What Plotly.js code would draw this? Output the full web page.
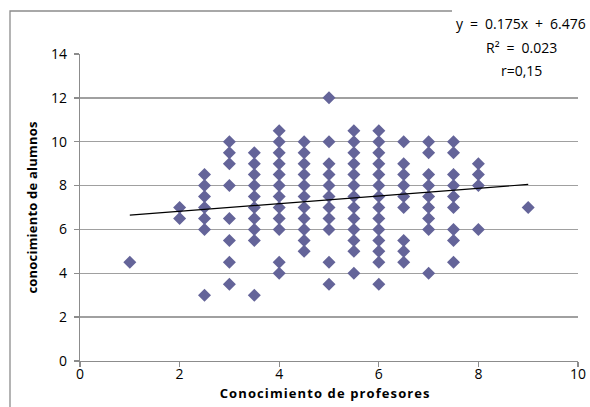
<!DOCTYPE html>
<html>
<head>
<meta charset="utf-8">
<script src="https://cdn.plot.ly/plotly-3.0.1.min.js"></script>
<style>
html,body{margin:0;padding:0;background:#fff;}
#chart{width:590px;height:407px;}
.g-ytitle text{letter-spacing:0.2px;}
.annotation.xtitle-ann text{letter-spacing:1.1px;}
</style>
</head>
<body>
<div id="chart"></div>
<script>
// Conocimiento de profesores (x columns)
const profesoresCols = [1, 2, 2.5, 3, 3.5, 4, 4.5, 5, 5.5, 6, 6.5, 7, 7.5, 8, 9];
// Conocimiento de alumnos (y values in each column)
const alumnosCols = [
  [4.5],
  [7, 6.5],
  [8.5, 8, 7.5, 7, 6.5, 6, 3],
  [10, 9.5, 9, 8, 6.5, 5.5, 4.5, 3.5],
  [9.5, 9, 8.5, 8, 7.5, 7, 6.5, 6, 5.5, 3],
  [10.5, 10, 9.5, 9, 8.5, 8, 7.5, 7, 6.5, 6, 4.5, 4],
  [10, 9.5, 9, 8.5, 8, 7.5, 7, 6.5, 6, 5.5, 5],
  [12, 10, 9, 8.5, 8, 7.5, 7, 6.5, 6, 4.5, 3.5],
  [10.5, 10, 9.5, 9, 8.5, 8, 7.5, 7, 6.5, 6, 5.5, 5, 4],
  [10.5, 10, 9.5, 9, 8.5, 8, 7.5, 7, 6.5, 6, 5.5, 5, 4.5, 3.5],
  [10, 9, 8.5, 8, 7.5, 7, 5.5, 5, 4.5],
  [10, 9.5, 8.5, 8, 7.5, 7, 6.5, 6, 4],
  [10, 9.5, 8.5, 8, 7.5, 7, 6, 5.5, 4.5],
  [9, 8.5, 8, 6],
  [7]
];
// Trend line reported in the chart
const trendSlope = 0.175;
const trendIntercept = 6.476;
const equationLines = ["y = 0.175x + 6.476", "R\u00b2 = 0.023", "r=0,15"];
const xTitle = "Conocimiento de profesores";
const yTitle = "conocimiento de alumnos";
const xTicks = [0, 2, 4, 6, 8, 10];
const yTicks = [0, 2, 4, 6, 8, 10, 12, 14];

const xs = [], ys = [];
profesoresCols.forEach((x, i) => alumnosCols[i].forEach(y => { xs.push(x); ys.push(y); }));
const xMin = Math.min(...xs), xMax = Math.max(...xs);

const font = '"Open Sans", sans-serif';
const W = 590, H = 407, L = 80, R = 12, T = 54, B = 46;
const pw = W - L - R, ph = H - T - B;
const px = p => (p - L) / pw;
const py = p => (H - B - p) / ph;

const traces = [
  {
    type: 'scatter', mode: 'markers', x: xs, y: ys,
    marker: {symbol: 'diamond', size: 10, color: '#646499', line: {width: 0}},
    hoverinfo: 'x+y', showlegend: false
  },
  {
    type: 'scatter', mode: 'lines', x: [xMin, xMax],
    y: [trendSlope * xMin + trendIntercept, trendSlope * xMax + trendIntercept],
    line: {color: '#000', width: 1.2}, hoverinfo: 'skip', showlegend: false
  }
];

const eqY = [24, 47, 70];
const annotations = equationLines.map((t, i) => ({
  xref: 'paper', yref: 'paper', x: px(521), y: py(eqY[i]),
  xanchor: 'center', yanchor: 'middle', showarrow: false,
  text: t.replace(/ /g, '\u2002'), font: {family: font, size: 14, color: '#000'}
}));
annotations.push({
  xref: 'paper', yref: 'paper', x: px(325), y: py(393),
  xanchor: 'center', yanchor: 'middle', showarrow: false,
  text: xTitle, font: {family: font, size: 13, weight: 'bold', color: '#000'}
});

const layout = {
  width: W, height: H,
  margin: {l: L, r: R, t: T, b: B},
  paper_bgcolor: '#fff', plot_bgcolor: '#fff',
  showlegend: false,
  font: {family: font, size: 14, color: '#000'},
  xaxis: {
    range: [0, 10], tickvals: xTicks, showgrid: false, zeroline: false,
    showline: true, linecolor: '#8c8c8c', linewidth: 1.3,
    ticks: 'outside', ticklen: 5, tickcolor: '#8c8c8c', tickwidth: 1.3,
    ticklabelstandoff: -5,
    tickfont: {family: font, size: 14, color: '#000'}
  },
  yaxis: {
    range: [0, 14], tickvals: yTicks, showgrid: true, gridcolor: '#a0a0a0', gridwidth: 1.3,
    zeroline: false, showline: true, linecolor: '#8c8c8c', linewidth: 1.3,
    ticks: 'outside', ticklen: 5, tickcolor: '#8c8c8c', tickwidth: 1.3,
    ticklabelstandoff: 4,
    tickfont: {family: font, size: 14, color: '#000'},
    title: {text: yTitle, standoff: 10,
            font: {family: font, size: 13, weight: 'bold', color: '#000'}}
  },
  shapes: [
    {type: 'rect', xref: 'paper', yref: 'paper', layer: 'below',
     x0: px(10), x1: px(640), y0: py(460), y1: py(11),
     line: {color: '#8c8c8c', width: 1.3}, fillcolor: 'rgba(0,0,0,0)'},
    {type: 'rect', xref: 'paper', yref: 'paper', layer: 'above',
     x0: px(452), x1: px(620), y0: py(86), y1: py(-10),
     line: {width: 0}, fillcolor: '#fff'}
  ],
  annotations: annotations
};

Plotly.newPlot('chart', traces, layout, {staticPlot: true, displayModeBar: false}).then(gd => {
  // letter spacing on the x title annotation
  const anns = gd.querySelectorAll('.annotation');
  const last = anns[anns.length - 1];
  if (last) last.classList.add('xtitle-ann');
});
</script>
</body>
</html>
